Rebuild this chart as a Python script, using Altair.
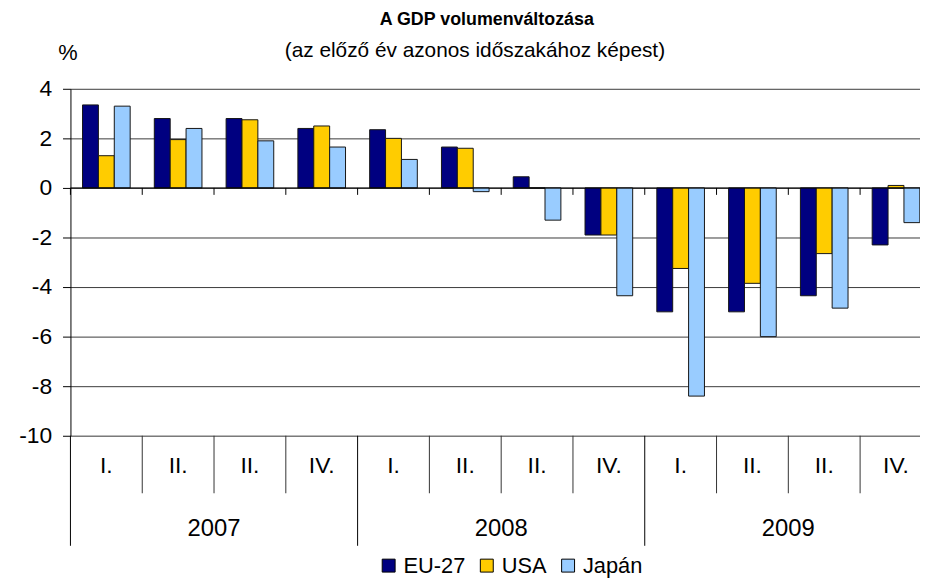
import altair as alt
import pandas as pd

years = ["2007", "2008", "2009"]
quarter_keys = ["Q1", "Q2", "Q3", "Q4"]
quarter_labels = ["I.", "II.", "II.", "IV."]
series = ["EU-27", "USA", "Japán"]
colors = ["#000080", "#FFCC00", "#99CCFF"]

eu27 = [3.35, 2.8, 2.8, 2.4, 2.35, 1.65, 0.45, -1.9, -5.0, -5.0, -4.35, -2.3]
usa = [1.3, 1.95, 2.75, 2.5, 2.0, 1.6, 0.0, -1.9, -3.25, -3.85, -2.65, 0.1]
japan = [3.3, 2.4, 1.9, 1.65, 1.15, -0.15, -1.3, -4.35, -8.4, -6.0, -4.85, -1.4]

title_text = "A GDP volumenváltozása"
subtitle_text = "(az előző év azonos időszakához képest)"
unit_text = "%"
y_ticks = [-10, -8, -6, -4, -2, 0, 2, 4]

FONT = "Liberation Sans"

cats = [f"{y} {q}" for y in years for q in quarter_keys]
cat_labels = [quarter_labels[i % 4] for i in range(len(cats))]
year_start = [i % 4 == 0 for i in range(len(cats))]

rows = []
for s, vals in zip(series, [eu27, usa, japan]):
    for c, v in zip(cats, vals):
        rows.append({"cat": c, "series": s, "value": v})
bars_df = pd.DataFrame(rows)
cat_df = pd.DataFrame({"cat": cats, "label": cat_labels, "ystart": year_start})
year_df = pd.DataFrame({"cat": [f"{y} Q3" for y in years], "year": years})

# the category axis runs a little past the right edge of the picture, as in the original
xenc = alt.X("cat:N", sort=cats, title=None,
             scale=alt.Scale(paddingInner=0, paddingOuter=0, range=[0, 869]),
             axis=alt.Axis(labels=False, ticks=False, grid=False, domainColor="#808080",
                           domainWidth=1))
xb = alt.X("cat:N", sort=cats, bandPosition=0)

bars = alt.Chart(bars_df).mark_bar(stroke="#151515", strokeWidth=1).encode(
    x=xenc,
    xOffset=alt.XOffset("series:N", sort=series,
                        scale=alt.Scale(domain=series, paddingInner=0, paddingOuter=0.76)),
    y=alt.Y("value:Q", stack=None, title=unit_text,
            scale=alt.Scale(domain=[-10, 4], nice=False, zero=False),
            axis=alt.Axis(values=y_ticks, grid=True, gridColor="#3a3a3a", gridWidth=1,
                          labelExpr="'' + datum.value",
                          domainColor="black", tickColor="black", tickSize=8,
                          labelFontSize=23, labelPadding=11, labelColor="black",
                          titleAngle=0, titleX=-3, titleY=-37, titleAlign="center",
                          titleBaseline="middle", titleFontSize=22,
                          titleFontWeight="normal", titleColor="black")),
    color=alt.Color("series:N", sort=series,
                    scale=alt.Scale(domain=series, range=colors),
                    legend=alt.Legend(title=None, orient="none", legendX=310, legendY=470,
                                      direction="horizontal", symbolType="square",
                                      symbolSize=170, symbolStrokeColor="black",
                                      symbolStrokeWidth=1, labelFontSize=22,
                                      labelColor="black", columnPadding=10,
                                      labelOffset=4, padding=0)),
)

zero_line = alt.Chart(year_df.head(1)).mark_rule(color="black", strokeWidth=1).encode(
    y=alt.datum(0))

zero_ticks = alt.Chart(cat_df).mark_rule(color="black", strokeWidth=1, y2Offset=7).encode(
    x=xb, y=alt.datum(0), y2=alt.datum(0))

q_sep = alt.Chart(cat_df).transform_filter("!datum.ystart").mark_rule(
    color="#333333", strokeWidth=1).encode(x=xb, y=alt.value(350), y2=alt.value(408))

y_sep = alt.Chart(cat_df).transform_filter("datum.ystart").mark_rule(
    color="black", strokeWidth=1).encode(x=xb, y=alt.value(350), y2=alt.value(461))

q_labels = alt.Chart(cat_df).mark_text(fontSize=23, color="black", baseline="middle").encode(
    x=alt.X("cat:N", sort=cats), y=alt.value(381), text="label:N")

y_labels = alt.Chart(year_df).mark_text(fontSize=24, color="black", baseline="middle").encode(
    x=xb, y=alt.value(444), text="year:N")

t1 = alt.Chart(pd.DataFrame({"t": [title_text]})).mark_text(
    fontSize=18, fontWeight="bold", color="black", baseline="middle").encode(
    x=alt.value(420), y=alt.value(-69), text="t:N")

t2 = alt.Chart(pd.DataFrame({"t": [subtitle_text]})).mark_text(
    fontSize=21, color="black", baseline="middle").encode(
    x=alt.value(408), y=alt.value(-38), text="t:N")

chart = alt.layer(bars, zero_line, zero_ticks, q_sep, y_sep, q_labels, y_labels, t1, t2).properties(
    width=857, height=350,
    autosize=alt.AutoSizeParams(type="none"),
    padding={"left": 63, "top": 79, "right": 0, "bottom": 143},
).configure(font=FONT).configure_view(stroke=None).configure_axis(labelFont=FONT, titleFont=FONT)

chart.save("out.html", embed_options={"renderer": "svg", "actions": False})
